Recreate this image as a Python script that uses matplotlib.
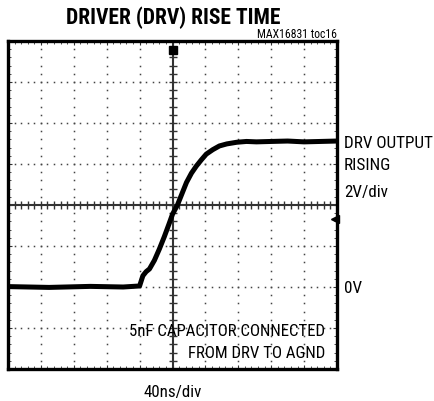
import matplotlib
matplotlib.use("Agg")
import matplotlib.pyplot as plt
from matplotlib import font_manager
import numpy as np

# ---- data ----
time_ns = [-200, -150, -100, -60, -40, -36, -32, -28, -22, -16, -10, -4, 0, 6, 12, 17, 23, 29, 35, 41,
           49, 57, 66, 78, 90, 102, 120, 140, 160, 180, 200]
drv_v = [0.02, -0.02, 0.03, 0.0, 0.05, 0.55, 0.75, 0.88, 1.3, 1.85, 2.45, 3.1, 3.55, 4.0, 4.6, 5.1, 5.55, 5.9, 6.2, 6.48,
         6.7, 6.88, 6.98, 7.06, 7.1, 7.08, 7.1, 7.12, 7.08, 7.1, 7.12]
trigger_level_v = 3.3

title = "DRIVER (DRV) RISE TIME"
toc_label = "MAX16831 toc16"
right_labels = ["DRV OUTPUT", "RISING", "2V/div"]
zero_label = "0V"
note_lines = ["5nF CAPACITOR CONNECTED", "FROM DRV TO AGND"]
x_label = "40ns/div"

# scope geometry: 10 x 8 divisions
t_per_div = 40
v_per_div = 2
x_min, x_max = -200, 200
y_min, y_max = -4, 12

available = {f.name for f in font_manager.fontManager.ttflist}
fam = 'DejaVu Sans'
for cand in ["Roboto Condensed", "Open Sans Condensed", "Liberation Sans Narrow", "Roboto", "Liberation Sans"]:
    if cand in available:
        fam = cand
        break
plt.rcParams['font.family'] = [fam, 'DejaVu Sans']

W, H = 434, 402
fig = plt.figure(figsize=(W / 100, H / 100), dpi=100)
ax = fig.add_axes([8 / W, 32 / H, 329 / W, 328 / H])
ax.set_xlim(x_min, x_max)
ax.set_ylim(y_min, y_max)

for s in ax.spines.values():
    s.set_linewidth(2.4)
    s.set_color('black')

ax.set_xticks(np.arange(x_min, x_max + 1, t_per_div))
ax.set_yticks(np.arange(y_min, y_max + 0.01, v_per_div))
ax.set_xticks(np.arange(x_min, x_max + 1, t_per_div / 5), minor=True)
ax.set_yticks(np.arange(y_min, y_max + 0.01, v_per_div / 5), minor=True)
ax.tick_params(which='both', direction='in', top=True, right=True, labelbottom=False, labelleft=False,
               color='#333333')
ax.tick_params(which='major', length=3, width=0.8)
ax.tick_params(which='minor', length=2, width=0.6)

x_center = (x_min + x_max) / 2
y_center = (y_min + y_max) / 2

# dotted grid
dot_kw = dict(linestyle='none', marker='s', markersize=1.1, color='#444444', markeredgewidth=0)
ys_minor = np.arange(y_min, y_max + 0.01, v_per_div / 5)
xs_minor = np.arange(x_min, x_max + 1, t_per_div / 5)
for gx in np.arange(x_min + t_per_div, x_max, t_per_div):
    if gx == x_center:
        continue
    ax.plot(np.full_like(ys_minor, gx), ys_minor, **dot_kw)
for gy in np.arange(y_min + v_per_div, y_max, v_per_div):
    if gy == y_center:
        continue
    ax.plot(xs_minor, np.full_like(xs_minor, gy), **dot_kw)

# center axes with minor ticks
ax.axhline(y_center, color='#333333', lw=1.5)
ax.axvline(x_center, color='#333333', lw=1.5)
ax.plot(xs_minor, np.full_like(xs_minor, y_center), linestyle='none', marker='|', markersize=6,
        markeredgewidth=1.0, color='#333333')
ax.plot(np.full_like(ys_minor, x_center), ys_minor, linestyle='none', marker='_', markersize=6,
        markeredgewidth=1.0, color='#333333')

# trace
ax.plot(time_ns, drv_v, color='black', lw=3.6, solid_joinstyle='round', solid_capstyle='round', zorder=5)

# markers: trigger position and level
ax.plot([x_center], [11.55], marker='s', markersize=6, color='black', zorder=6, clip_on=False)
ax.plot([x_max - 2], [trigger_level_v], marker='<', markersize=6, color='black', zorder=6, clip_on=False)

def px(x, y):
    return x / W, 1 - y / H

fig.text(*px(173, 18), title, ha='center', va='center', fontsize=15.5, fontweight='black')
fig.text(*px(337, 35), toc_label, ha='right', va='center', fontsize=8.5)
for lbl, yy in zip(right_labels, [143, 166, 192]):
    fig.text(*px(344, yy), lbl, ha='left', va='center', fontsize=12.3)
fig.text(*px(344, 289), zero_label, ha='left', va='center', fontsize=12.3)
for lbl, yy in zip(note_lines, [332, 353]):
    fig.text(*px(325, yy), lbl, ha='right', va='center', fontsize=12.2)
fig.text(*px(173, 393), x_label, ha='center', va='center', fontsize=12.2)

fig.savefig("out.png", dpi=100)
